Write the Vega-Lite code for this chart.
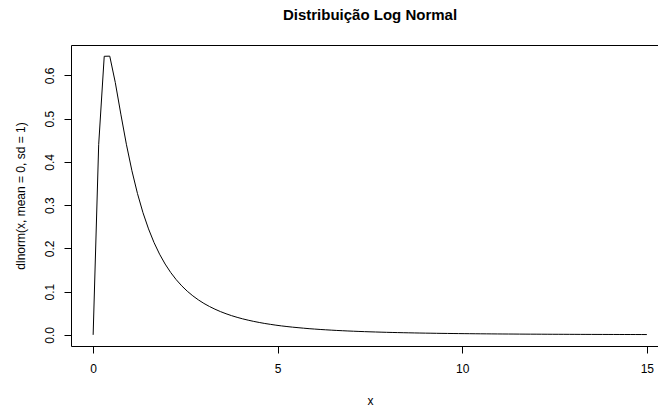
{
  "$schema": "https://vega.github.io/schema/vega-lite/v6.json",
  "autosize": {"type": "none"},
  "padding": {"left": 71, "top": 45, "right": 0, "bottom": 62},
  "width": 598,
  "height": 301,
  "background": "white",
  "config": {
    "view": {"stroke": "#000000", "strokeWidth": 1},
    "font": "Liberation Sans"
  },
  "title": {
    "text": "Distribuição Log Normal",
    "font": "Liberation Sans",
    "fontSize": 15,
    "fontWeight": "bold",
    "color": "#000000",
    "anchor": "middle",
    "frame": "group",
    "offset": 22
  },
  "data": {
    "values": [
      {"x": 0, "y": 0},
      {"x": 0.15, "y": 0.4399},
      {"x": 0.3, "y": 0.6442},
      {"x": 0.45, "y": 0.6445},
      {"x": 0.6, "y": 0.5836},
      {"x": 0.75, "y": 0.5104},
      {"x": 0.9, "y": 0.4408},
      {"x": 1.05, "y": 0.3795},
      {"x": 1.2, "y": 0.327},
      {"x": 1.35, "y": 0.2825},
      {"x": 1.5, "y": 0.245},
      {"x": 1.65, "y": 0.2133},
      {"x": 1.8, "y": 0.1865},
      {"x": 1.95, "y": 0.1637},
      {"x": 2.1, "y": 0.1443},
      {"x": 2.25, "y": 0.1276},
      {"x": 2.4, "y": 0.1133},
      {"x": 2.55, "y": 0.1009},
      {"x": 2.7, "y": 0.0902},
      {"x": 2.85, "y": 0.0809},
      {"x": 3.0, "y": 0.0727},
      {"x": 3.15, "y": 0.0656},
      {"x": 3.3, "y": 0.0593},
      {"x": 3.45, "y": 0.0537},
      {"x": 3.6, "y": 0.0488},
      {"x": 3.75, "y": 0.0444},
      {"x": 3.9, "y": 0.0405},
      {"x": 4.05, "y": 0.037},
      {"x": 4.2, "y": 0.0339},
      {"x": 4.35, "y": 0.0311},
      {"x": 4.5, "y": 0.0286},
      {"x": 4.65, "y": 0.0263},
      {"x": 4.8, "y": 0.0243},
      {"x": 4.95, "y": 0.0224},
      {"x": 5.1, "y": 0.0207},
      {"x": 5.25, "y": 0.0192},
      {"x": 5.4, "y": 0.0178},
      {"x": 5.55, "y": 0.0166},
      {"x": 5.7, "y": 0.0154},
      {"x": 5.85, "y": 0.0143},
      {"x": 6.0, "y": 0.01336},
      {"x": 6.15, "y": 0.01246},
      {"x": 6.3, "y": 0.01164},
      {"x": 6.45, "y": 0.01088},
      {"x": 6.6, "y": 0.01019},
      {"x": 6.75, "y": 0.00955},
      {"x": 6.9, "y": 0.00895},
      {"x": 7.05, "y": 0.0084},
      {"x": 7.2, "y": 0.0079},
      {"x": 7.35, "y": 0.00742},
      {"x": 7.5, "y": 0.00699},
      {"x": 7.65, "y": 0.00658},
      {"x": 7.8, "y": 0.0062},
      {"x": 7.95, "y": 0.00585},
      {"x": 8.1, "y": 0.00552},
      {"x": 8.25, "y": 0.00522},
      {"x": 8.4, "y": 0.00493},
      {"x": 8.55, "y": 0.00467},
      {"x": 8.7, "y": 0.00442},
      {"x": 8.85, "y": 0.00418},
      {"x": 9.0, "y": 0.00397},
      {"x": 9.15, "y": 0.00376},
      {"x": 9.3, "y": 0.00357},
      {"x": 9.45, "y": 0.00339},
      {"x": 9.6, "y": 0.00322},
      {"x": 9.75, "y": 0.00306},
      {"x": 9.9, "y": 0.00291},
      {"x": 10.05, "y": 0.00277},
      {"x": 10.2, "y": 0.00264},
      {"x": 10.35, "y": 0.00251},
      {"x": 10.5, "y": 0.00239},
      {"x": 10.65, "y": 0.00228},
      {"x": 10.8, "y": 0.00218},
      {"x": 10.95, "y": 0.00208},
      {"x": 11.1, "y": 0.00198},
      {"x": 11.25, "y": 0.0019},
      {"x": 11.4, "y": 0.00181},
      {"x": 11.55, "y": 0.00173},
      {"x": 11.7, "y": 0.00166},
      {"x": 11.85, "y": 0.00158},
      {"x": 12.0, "y": 0.00152},
      {"x": 12.15, "y": 0.00145},
      {"x": 12.3, "y": 0.00139},
      {"x": 12.45, "y": 0.00133},
      {"x": 12.6, "y": 0.00128},
      {"x": 12.75, "y": 0.00123},
      {"x": 12.9, "y": 0.00118},
      {"x": 13.05, "y": 0.00113},
      {"x": 13.2, "y": 0.00108},
      {"x": 13.35, "y": 0.00104},
      {"x": 13.5, "y": 0.001},
      {"x": 13.65, "y": 0.00096},
      {"x": 13.8, "y": 0.00092},
      {"x": 13.95, "y": 0.00089},
      {"x": 14.1, "y": 0.00085},
      {"x": 14.25, "y": 0.00082},
      {"x": 14.4, "y": 0.00079},
      {"x": 14.55, "y": 0.00076},
      {"x": 14.7, "y": 0.00073},
      {"x": 14.85, "y": 0.00071},
      {"x": 15.0, "y": 0.00068}
    ]
  },
  "mark": {"type": "line", "color": "#000000", "strokeWidth": 1, "interpolate": "linear"},
  "encoding": {
    "x": {
      "field": "x",
      "type": "quantitative",
      "scale": {"domain": [-0.6, 15.6], "nice": false, "zero": false},
      "axis": {
        "title": "x",
        "values": [0, 5, 10, 15],
        "format": "d",
        "grid": false,
        "domain": false,
        "tickColor": "#000000",
        "tickSize": 7,
        "labelColor": "#000000",
        "labelFont": "Liberation Sans",
        "labelFontSize": 12,
        "labelPadding": 10,
        "titleColor": "#000000",
        "titleFont": "Liberation Sans",
        "titleFontSize": 12,
        "titleFontWeight": "normal",
        "titlePadding": 21
      }
    },
    "y": {
      "field": "y",
      "type": "quantitative",
      "scale": {"domain": [-0.0258, 0.6703], "nice": false, "zero": false},
      "axis": {
        "title": "dlnorm(x, mean = 0, sd = 1)",
        "values": [0, 0.1, 0.2, 0.3, 0.4, 0.5, 0.6],
        "format": ".1f",
        "grid": false,
        "domain": false,
        "tickColor": "#000000",
        "tickSize": 7,
        "labelAngle": -90,
        "labelAlign": "center",
        "labelBaseline": "bottom",
        "labelColor": "#000000",
        "labelFont": "Liberation Sans",
        "labelFontSize": 12,
        "labelPadding": 8,
        "titleColor": "#000000",
        "titleFont": "Liberation Sans",
        "titleFontSize": 12,
        "titleFontWeight": "normal",
        "titlePadding": 16
      }
    }
  }
}
